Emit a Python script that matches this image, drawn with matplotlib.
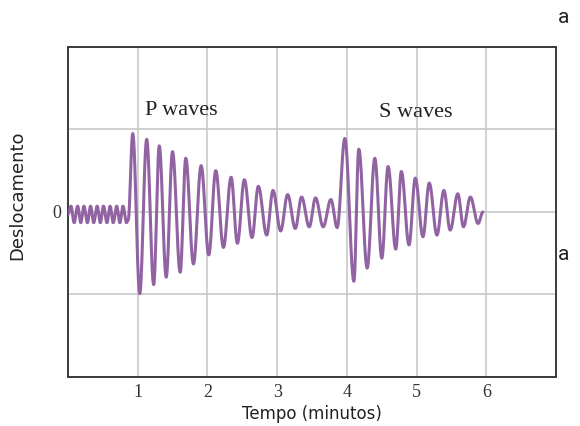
import numpy as np
import matplotlib.pyplot as plt

noise_t = [0.00, 0.045, 0.09, 0.14, 0.185, 0.23, 0.28, 0.325, 0.37, 0.42, 0.465,
           0.51, 0.56, 0.605, 0.65, 0.70, 0.745, 0.79, 0.84, 0.865]
noise_v = [-0.03, 0.07, -0.13, 0.07, -0.13, 0.07, -0.13, 0.07, -0.13, 0.07, -0.13,
           0.07, -0.13, 0.07, -0.13, 0.07, -0.13, 0.07, -0.13, -0.10]

p_t = [0.93, 1.03, 1.13, 1.23, 1.31, 1.41, 1.50, 1.61, 1.69, 1.80, 1.91, 2.02,
       2.12, 2.23, 2.34, 2.43, 2.53, 2.64, 2.73, 2.85, 2.94, 3.05, 3.15, 3.26,
       3.35, 3.46, 3.55, 3.66, 3.77, 3.86]
p_v = [0.95, -0.99, 0.88, -0.88, 0.80, -0.79, 0.73, -0.73, 0.65, -0.63, 0.56, -0.52,
       0.50, -0.43, 0.42, -0.38, 0.39, -0.31, 0.31, -0.28, 0.26, -0.23, 0.21, -0.20,
       0.18, -0.18, 0.17, -0.18, 0.15, -0.19]

s_t = [3.97, 4.10, 4.17, 4.29, 4.40, 4.50, 4.59, 4.70, 4.78, 4.89, 4.98, 5.09,
       5.18, 5.29, 5.39, 5.48, 5.59, 5.67, 5.77, 5.88, 5.95]
s_v = [0.89, -0.84, 0.76, -0.68, 0.65, -0.56, 0.55, -0.45, 0.49, -0.40, 0.41, -0.30,
       0.35, -0.28, 0.26, -0.22, 0.22, -0.18, 0.18, -0.14, 0.00]

x_ticks = [1, 2, 3, 4, 5, 6]
y_grid = [-1, 0, 1]

ext_t = np.array(noise_t + p_t + s_t)
ext_v = np.array(noise_v + p_v + s_v)


# curva suave entre extremos (meia onda de cosseno em cada trecho)
def smooth_curve(t, v, n=30):
    xs, ys = [], []
    for i in range(len(t) - 1):
        s = np.linspace(0, 1, n, endpoint=False)
        xs.append(t[i] + (t[i + 1] - t[i]) * s)
        ys.append(v[i] + (v[i + 1] - v[i]) * (1 - np.cos(np.pi * s)) / 2)
    xs.append([t[-1]])
    ys.append([v[-1]])
    return np.concatenate(xs), np.concatenate(ys)


fig = plt.figure(figsize=(5.8, 4.26), dpi=100)
ax = fig.add_axes([0.117, 0.115, 0.842, 0.775])

xs, ys = smooth_curve(ext_t, ext_v)
ax.plot(xs, ys, color='#9163a3', lw=2.2, solid_capstyle='round', zorder=3)

for x in x_ticks:
    ax.axvline(x, color='#c8c8c8', lw=1.2, zorder=1)
for y in y_grid:
    ax.axhline(y, color='#c8c8c8', lw=1.2, zorder=1)

ax.set_xlim(0, 7)
ax.set_ylim(-2, 2)
ax.set_xticks(x_ticks)
ax.set_xticklabels([str(x) for x in x_ticks], family='Liberation Serif', fontsize=13, color='#333333')
ax.set_yticks([0])
ax.set_yticklabels(['0'], family='Liberation Serif', fontsize=13, color='#333333')
ax.tick_params(length=0, pad=5)
for sp in ax.spines.values():
    sp.set_color('#3a3a3a')
    sp.set_linewidth(1.4)

ax.text(1.1, 1.18, 'P waves', family='Liberation Serif', fontsize=16, color='#222222')
ax.text(4.46, 1.15, 'S waves', family='Liberation Serif', fontsize=16, color='#222222')

ax.set_xlabel('Tempo (minutos)', fontsize=12, color='#222222', labelpad=3)
ax.set_ylabel('Deslocamento', fontsize=13, color='#222222')
ax.yaxis.set_label_coords(-0.085, 0.55)

fig.text(0.972, 0.945, 'a', fontsize=15, family='Roboto', color='#222222', ha='center')
fig.text(0.972, 0.39, 'a', fontsize=15, family='Roboto', color='#222222', ha='center')

fig.savefig('out.png', dpi=100)
